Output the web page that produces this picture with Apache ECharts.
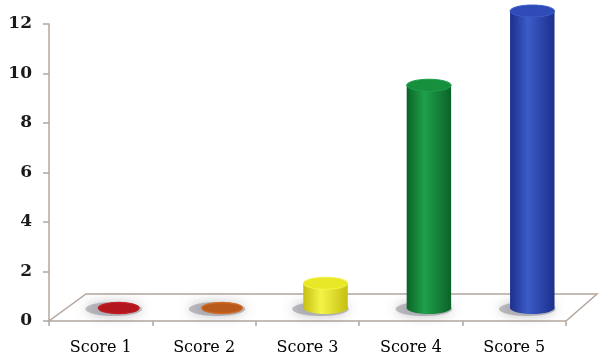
<!DOCTYPE html>
<html>
<head>
<meta charset="utf-8">
<script src="https://cdn.jsdelivr.net/npm/echarts@6/dist/echarts.min.js"></script>
<style>
  html, body { margin: 0; padding: 0; background: #fff; }
  #main { width: 601px; height: 356px; }
</style>
</head>
<body>
<div id="main"></div>
<script>
var categories = ['Score 1', 'Score 2', 'Score 3', 'Score 4', 'Score 5'];
var scores = [0, 0, 1, 9, 12];
var yTicks = [0, 2, 4, 6, 8, 10, 12];

// colours for each cylinder: [dark edge, light centre, top face]
var palette = [
    ['#8e0f14', '#c01c22', '#b3161c'],
    ['#9c4412', '#d06a24', '#b85a1c'],
    ['#c4c012', '#f4f448', '#e8e828'],
    ['#0b6328', '#1fa04a', '#17903e'],
    ['#1c2f8c', '#3c5cc8', '#2f4bb8']
];
var lineColor = '#b3a79f';

var barData = [];
for (var i = 0; i < categories.length; i++) {
    barData.push([i, scores[i]]);
}

function floorItem(params, api) {
    var cs = params.coordSys;
    var x0 = cs.x, y0 = cs.y + cs.height, w = cs.width;
    return {
        type: 'polygon',
        shape: { points: [[x0, y0], [x0 + w, y0], [x0 + w + 31, y0 - 27], [x0 + 37, y0 - 27]] },
        style: { fill: '#ffffff', stroke: lineColor, lineWidth: 1.5 }
    };
}

function cylinderItem(params, api) {
    var idx = api.value(0), val = api.value(1);
    var base = api.coord([idx, 0]);
    var top = api.coord([idx, val]);
    var bw = api.size([1, 0])[0];
    var rx = bw * 0.215, ry = 6;
    var cx = base[0] + 18, by = base[1] - 13, ty = top[1] - 13;
    var c = palette[idx];
    var grad = new echarts.graphic.LinearGradient(0, 0, 1, 0, [
        { offset: 0, color: c[0] },
        { offset: 0.4, color: c[1] },
        { offset: 1, color: c[0] }
    ]);
    var children = [{
        type: 'ellipse',
        shape: { cx: cx - 5, cy: by + 1, rx: rx + 6, ry: ry + 1 },
        style: { fill: 'rgba(120,120,130,0.45)', shadowBlur: 12, shadowColor: 'rgba(110,110,120,0.9)' }
    }];
    if (val > 0) {
        children.push({
            type: 'rect',
            shape: { x: cx - rx, y: ty, width: rx * 2, height: by - ty },
            style: { fill: grad }
        });
        children.push({
            type: 'ellipse',
            shape: { cx: cx, cy: by, rx: rx, ry: ry },
            style: { fill: grad }
        });
        children.push({
            type: 'ellipse',
            shape: { cx: cx, cy: ty, rx: rx, ry: ry },
            style: { fill: c[2], stroke: c[1], lineWidth: 1 }
        });
    } else {
        children.push({
            type: 'ellipse',
            shape: { cx: cx, cy: by, rx: rx - 2, ry: ry - 0.5 },
            style: { fill: c[2], stroke: c[1], lineWidth: 1.5 }
        });
    }
    return { type: 'group', children: children };
}

var chart = echarts.init(document.getElementById('main'));
var option = {
    backgroundColor: '#ffffff',
    animation: false,
    grid: { left: 49, right: 35, top: 24, bottom: 35 },
    xAxis: {
        type: 'category',
        data: categories,
        boundaryGap: true,
        axisLine: { show: false },
        axisTick: { show: true, length: 5, lineStyle: { color: lineColor, width: 1.5 } },
        axisLabel: { color: '#000', fontFamily: 'DejaVu Serif', fontSize: 16, margin: 19 }
    },
    yAxis: {
        type: 'value',
        min: 0,
        max: 12,
        interval: 2,
        splitLine: { show: false },
        axisLine: { show: true, lineStyle: { color: lineColor, width: 1.5 } },
        axisTick: { show: true, length: 6, lineStyle: { color: lineColor, width: 1.5 } },
        axisLabel: {
            color: '#1a1a1a', fontFamily: 'DejaVu Serif', fontWeight: 'bold', fontSize: 17, margin: 17,
            formatter: function (v) { return yTicks.indexOf(v) >= 0 ? String(v) : ''; }
        }
    },
    series: [{
        type: 'custom',
        z: 1,
        data: [[0, 0]],
        renderItem: floorItem
    }, {
        type: 'custom',
        z: 3,
        data: barData,
        renderItem: cylinderItem
    }]
};
chart.setOption(option);
window.addEventListener('resize', function () {
    chart.resize();
});
</script>
</body>
</html>
